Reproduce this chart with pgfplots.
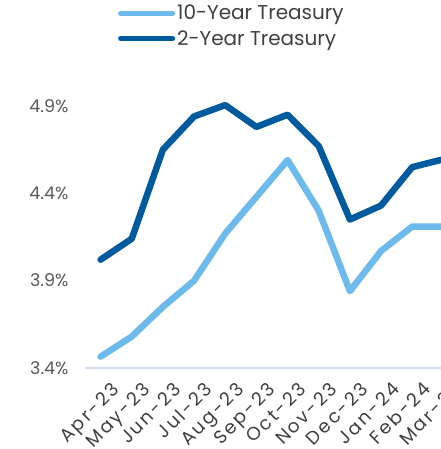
\documentclass[border=0pt]{standalone}
\usepackage{pgfplots}
\pgfplotsset{compat=1.18}
\usepackage{fontspec}
\setmainfont{Poppins}
\newfontfamily\lblfont{Poppins}[LetterSpace=12]
\definecolor{tenY}{HTML}{6DBBEC}
\definecolor{twoY}{HTML}{005A9E}
\definecolor{axln}{HTML}{D3DFEE}
\definecolor{tickc}{HTML}{595959}
\definecolor{legc}{HTML}{404040}
\begin{document}
\begin{tikzpicture}
\begin{axis}[name=ax,
  scale only axis, width=374pt, height=279.5pt,
  xmin=-0.5, xmax=11.5, ymin=3.4, ymax=5.0,
  axis x line=bottom, axis y line=left,
  x axis line style={draw=axln, line width=1.5pt, -},
  y axis line style={draw=none},
  major tick length=0pt,
  xtick={0,...,11},
  xticklabels={Apr-23,May-23,Jun-23,Jul-23,Aug-23,Sep-23,Oct-23,Nov-23,Dec-23,Jan-24,Feb-24,Mar-24},
  ytick={3.4,3.9,4.4,4.9},
  yticklabels={3.4\%,3.9\%,4.4\%,4.9\%},
  y tick label style={font=\fontsize{17.5}{20}\selectfont, text=tickc, xshift=-13pt},
  x tick label style={font=\lblfont\fontsize{18.5}{20}\selectfont, text=legc, rotate=45, anchor=north east, inner sep=1pt, yshift=-15pt, xshift=-1pt},
  clip=false,
  legend style={at={(0.088,1.306)}, anchor=north west, draw=none, fill=none,
    font=\fontsize{20}{22}\selectfont, text=legc, row sep=5pt, inner sep=0pt,
    legend cell align=left},
  legend image code/.code={\draw[#1, line width=5pt, line cap=round] (0pt,0pt) -- (52pt,0pt);},
]
\addplot[tenY, line width=6.5pt, line cap=round, line join=round] coordinates {
(0,3.465) (1,3.58) (2,3.75) (3,3.90) (4,4.17) (5,4.38) (6,4.59) (7,4.30) (8,3.84) (9,4.07) (10,4.21) (11,4.21)};
\addlegendentry{10-Year Treasury}
\addplot[twoY, line width=6.5pt, line cap=round, line join=round] coordinates {
(0,4.02) (1,4.14) (2,4.65) (3,4.84) (4,4.905) (5,4.78) (6,4.85) (7,4.67) (8,4.25) (9,4.33) (10,4.55) (11,4.595)};
\addlegendentry{2-Year Treasury}
\end{axis}
\pgfresetboundingbox
\path[use as bounding box] ([shift={(-85pt,-81pt)}]ax.south west) rectangle ([shift={(355pt,368pt)}]ax.south west);
\end{tikzpicture}
\end{document}
